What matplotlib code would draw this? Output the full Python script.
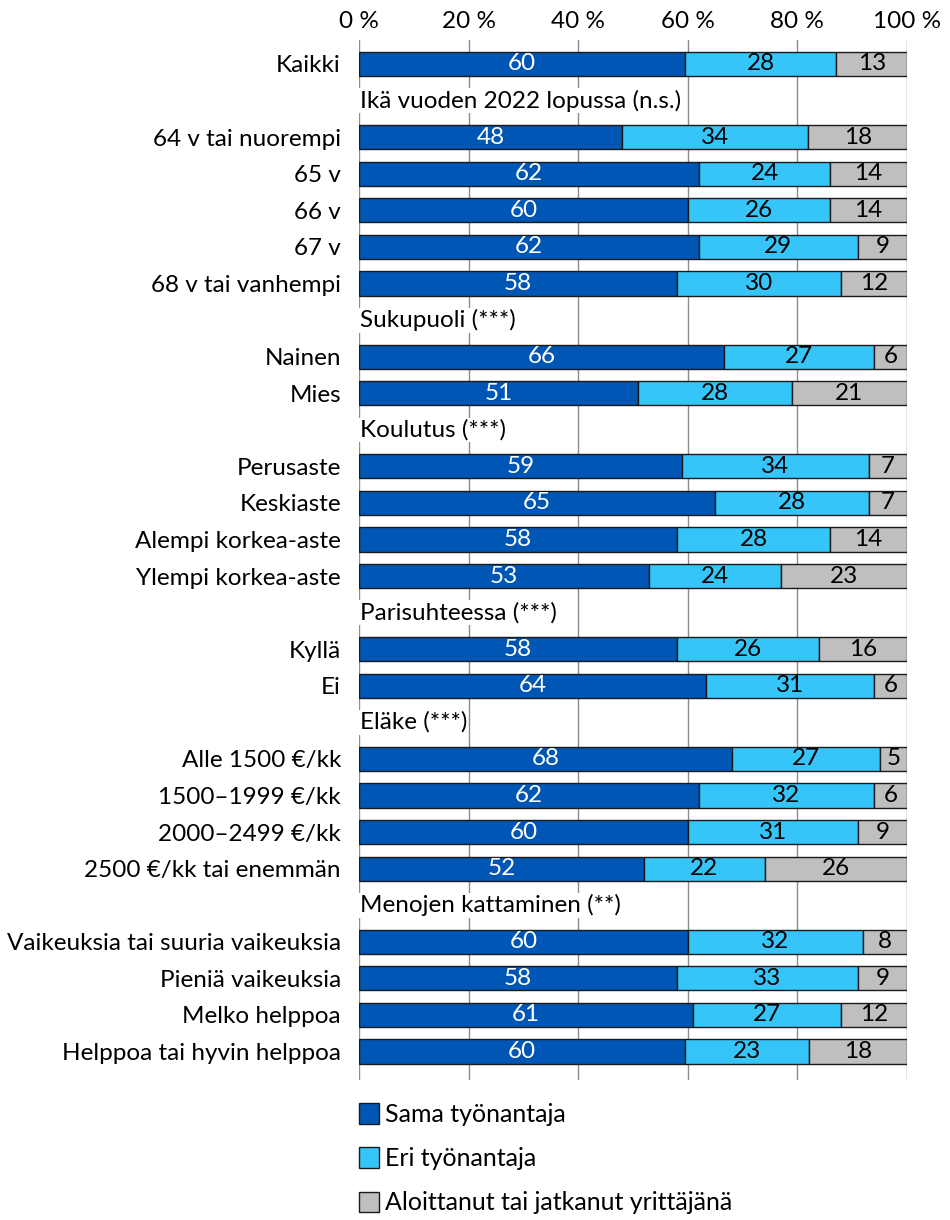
import matplotlib
matplotlib.use("Agg")
import matplotlib.pyplot as plt
from matplotlib.patches import Patch
import numpy as np

plt.rcParams['font.family'] = ['Lato', 'DejaVu Sans']

# Rows: (label, is_header)
labels = [
    "Kaikki",
    "Ikä vuoden 2022 lopussa (n.s.)",
    "64 v tai nuorempi", "65 v", "66 v", "67 v", "68 v tai vanhempi",
    "Sukupuoli (***)",
    "Nainen", "Mies",
    "Koulutus (***)",
    "Perusaste", "Keskiaste", "Alempi korkea-aste", "Ylempi korkea-aste",
    "Parisuhteessa (***)",
    "Kyllä", "Ei",
    "Eläke (***)",
    "Alle 1500 €/kk", "1500–1999 €/kk", "2000–2499 €/kk", "2500 €/kk tai enemmän",
    "Menojen kattaminen (**)",
    "Vaikeuksia tai suuria vaikeuksia", "Pieniä vaikeuksia", "Melko helppoa", "Helppoa tai hyvin helppoa",
]
is_header = [False, True, False, False, False, False, False, True, False, False, True,
             False, False, False, False, True, False, False, True, False, False, False, False,
             True, False, False, False, False]

sama = [60, None, 48, 62, 60, 62, 58, None, 66, 51, None, 59, 65, 58, 53, None, 58, 64, None,
        68, 62, 60, 52, None, 60, 58, 61, 60]
eri = [28, None, 34, 24, 26, 29, 30, None, 27, 28, None, 34, 28, 28, 24, None, 26, 31, None,
       27, 32, 31, 22, None, 32, 33, 27, 23]
yritt = [13, None, 18, 14, 14, 9, 12, None, 6, 21, None, 7, 7, 14, 23, None, 16, 6, None,
         5, 6, 9, 26, None, 8, 9, 12, 18]

series_names = ["Sama työnantaja", "Eri työnantaja", "Aloittanut tai jatkanut yrittäjänä"]
colors = ["#0056b4", "#35c5f8", "#bfbfbf"]
text_colors = ["white", "black", "black"]

fig = plt.figure(figsize=(9.5, 12.2), dpi=100)
ax = fig.add_axes([359/950, 1 - 1080/1220, 548/950, 1040/1220])

fs = 17.5
n = len(labels)
for i in range(n):
    if is_header[i]:
        ax.text(0.1, i, labels[i], ha='left', va='center', fontsize=fs,
                bbox=dict(facecolor='white', edgecolor='none', pad=1.0), zorder=3)
        continue
    vals = [sama[i], eri[i], yritt[i]]
    tot = sum(vals)
    left = 0
    for k, v in enumerate(vals):
        w = v / tot * 100
        ax.barh(i, w, left=left, height=0.66, color=colors[k], edgecolor='#1a1a1a',
                linewidth=1.0, zorder=2)
        ax.text(left + w / 2, i, str(v), ha='center', va='center', fontsize=fs,
                color=text_colors[k], zorder=4)
        left += w

ax.set_xlim(0, 100)
ax.set_ylim(27.78, -0.656)
ax.set_xticks([0, 20, 40, 60, 80, 100])
ax.set_xticklabels(["0 %", "20 %", "40 %", "60 %", "80 %", "100 %"], fontsize=fs)
ax.xaxis.tick_top()
ax.tick_params(axis='x', length=0, pad=6)
ax.set_yticks(range(n))
ax.set_yticklabels([("" if h else l) for l, h in zip(labels, is_header)], fontsize=fs)
ax.tick_params(axis='y', length=0, pad=13)
ax.grid(axis='x', color='#8c8c8c', linewidth=1.0, zorder=1)
ax.set_axisbelow(True)
for s in ax.spines.values():
    s.set_visible(False)

lfs = 18
handles = [Patch(facecolor=c, edgecolor='#1a1a1a', linewidth=1.0) for c in colors]
fig.legend(handles, series_names, loc='upper left', bbox_to_anchor=(349/950, 1 - 1093/1220),
           frameon=False, fontsize=lfs, handlelength=0.8, handleheight=0.9,
           labelspacing=0.85, handletextpad=0.25, borderaxespad=0)

fig.savefig("out.png", dpi=100)
